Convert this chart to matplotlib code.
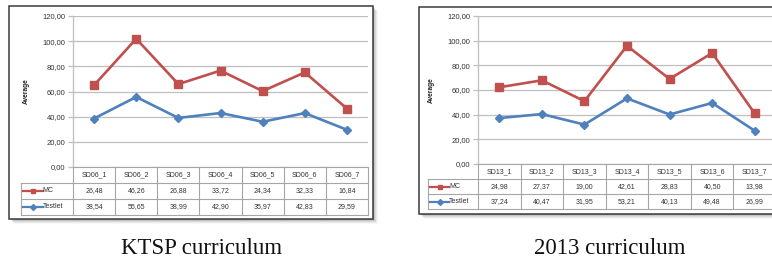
import matplotlib
matplotlib.use("Agg")
import matplotlib.pyplot as plt
from matplotlib.patches import Rectangle
from matplotlib.lines import Line2D
import numpy as np

# ---------------- data ----------------
ktsp_categories = ["SD06_1", "SD06_2", "SD06_3", "SD06_4", "SD06_5", "SD06_6", "SD06_7"]
ktsp_mc = [26.48, 46.26, 26.88, 33.72, 24.34, 32.33, 16.84]
ktsp_testlet = [38.54, 55.65, 38.99, 42.90, 35.97, 42.83, 29.59]

k13_categories = ["SD13_1", "SD13_2", "SD13_3", "SD13_4", "SD13_5", "SD13_6", "SD13_7"]
k13_mc = [24.98, 27.37, 19.00, 42.61, 28.83, 40.50, 13.98]
k13_testlet = [37.24, 40.47, 31.95, 53.21, 40.13, 49.48, 26.99]

yticks = [0, 20, 40, 60, 80, 100, 120]
series_names = ["MC", "Testlet"]
captions = ["KTSP curriculum", "2013 curriculum"]

# ---------------- style ----------------
W, H = 772, 260
RED = "#C0504D"
BLUE = "#4F81BD"
GRID = "#BFBFBF"
TXT = "#333333"
SMALL = ["Liberation Sans Narrow", "Liberation Sans", "DejaVu Sans"]

fig = plt.figure(figsize=(W / 100, H / 100), dpi=100)
fig.patch.set_facecolor("white")


def fx(px):
    return px / W


def fy(py):
    return 1 - py / H


def fmt(v):
    return f"{v:.2f}".replace(".", ",")


def panel(cats, mc, testlet, caption, box, plot_l, plot_r, plot_t, plot_b,
          table_l, row_h, cap_x):
    bx0, by0, bx1, by1 = box
    # drop shadow
    for i, a in enumerate([0.12, 0.09, 0.07, 0.05, 0.03]):
        off = 1 + i
        fig.patches.append(Rectangle((fx(bx0 + off), fy(by1 + off)),
                                     fx(bx1 - bx0), (by1 - by0) / H,
                                     transform=fig.transFigure,
                                     facecolor="black", alpha=a,
                                     edgecolor="none", zorder=0))
    fig.patches.append(Rectangle((fx(bx0), fy(by1)), fx(bx1 - bx0), (by1 - by0) / H,
                                 transform=fig.transFigure, facecolor="white",
                                 edgecolor="#3a3a3a", linewidth=1.1, zorder=1))

    ax = fig.add_axes([fx(plot_l), fy(plot_b), fx(plot_r - plot_l),
                       (plot_b - plot_t) / H])
    ax.set_zorder(3)
    ax.patch.set_alpha(0)
    x = np.arange(len(cats))
    stacked_mc = np.array(testlet) + np.array(mc)
    ax.plot(x, testlet, color=BLUE, lw=1.9, marker="D", ms=4.2,
            markerfacecolor=BLUE, markeredgecolor=BLUE, zorder=4, clip_on=False)
    ax.plot(x, stacked_mc, color=RED, lw=1.9, marker="s", ms=5.2,
            markerfacecolor=RED, markeredgecolor=RED, zorder=4, clip_on=False)
    ax.set_xlim(-0.5, len(cats) - 0.5)
    ax.set_ylim(0, 120)
    ax.set_yticks(yticks)
    ax.set_yticklabels([fmt(v) for v in yticks], fontsize=5.5, color=TXT,
                       family=SMALL)
    ax.set_xticks([])
    ax.yaxis.grid(True, color=GRID, lw=0.9)
    ax.set_axisbelow(True)
    for s in ["top", "right", "bottom"]:
        ax.spines[s].set_visible(False)
    ax.spines["left"].set_color(GRID)
    ax.spines["left"].set_linewidth(0.9)
    ax.tick_params(axis="y", length=3.5, width=0.9, color=GRID, pad=2)
    ax.set_ylabel("Average", fontsize=4.8, fontweight="bold", color="#222222",
                  family=SMALL, labelpad=9)

    # data table
    colw = (plot_r - plot_l) / len(cats)
    xl = -0.5 - (plot_l - table_l) / colw
    tax = fig.add_axes([fx(table_l), fy(plot_b + 3 * row_h), fx(plot_r - table_l),
                        3 * row_h / H])
    tax.set_zorder(3)
    tax.patch.set_alpha(0)
    tax.set_xlim(xl, len(cats) - 0.5)
    tax.set_ylim(0, 3)
    tax.axis("off")
    lc = "#A6A6A6"
    lw = 0.8
    xr = len(cats) - 0.5
    for yy in [0, 1, 2]:
        tax.plot([xl, xr], [yy, yy], color=lc, lw=lw, clip_on=False)
    tax.plot([-0.5, xr], [3, 3], color=lc, lw=lw, clip_on=False)
    for i in range(len(cats) + 1):
        tax.plot([-0.5 + i, -0.5 + i], [0, 3], color=lc, lw=lw, clip_on=False)
    tax.plot([xl, xl], [0, 2], color=lc, lw=lw, clip_on=False)

    fs = 5.0
    for i, c in enumerate(cats):
        tax.text(i, 2.5, c, ha="center", va="center", fontsize=fs, color=TXT,
                 family=SMALL)
        tax.text(i, 1.5, fmt(mc[i]), ha="center", va="center", fontsize=fs,
                 color=TXT, family=SMALL)
        tax.text(i, 0.5, fmt(testlet[i]), ha="center", va="center", fontsize=fs,
                 color=TXT, family=SMALL)
    legw = -0.5 - xl
    for yy, name, col, mk, ms in [(1.5, series_names[0], RED, "s", 3.5),
                                  (0.5, series_names[1], BLUE, "D", 3.0)]:
        tax.add_line(Line2D([xl + 0.04 * legw, xl + 0.42 * legw], [yy, yy],
                            color=col, lw=1.6, clip_on=False))
        tax.add_line(Line2D([xl + 0.23 * legw], [yy], marker=mk, ms=ms,
                            color=col, lw=0, clip_on=False))
        tax.text(xl + 0.42 * legw, yy, name, ha="left", va="center",
                 fontsize=fs, color=TXT, family=SMALL)

    fig.text(fx(cap_x), fy(248), caption, ha="center", va="center",
             fontsize=16.5, family=["Liberation Serif", "DejaVu Serif"],
             color="#111111")


panel(ktsp_categories, ktsp_mc, ktsp_testlet, captions[0],
      box=(9, 6, 373, 219), plot_l=73, plot_r=368, plot_t=16, plot_b=167,
      table_l=21, row_h=16, cap_x=202)
panel(k13_categories, k13_mc, k13_testlet, captions[1],
      box=(419, 7, 784, 214), plot_l=478, plot_r=776, plot_t=16, plot_b=164,
      table_l=428, row_h=15, cap_x=610)

fig.savefig("out.png", dpi=100, facecolor="white")
